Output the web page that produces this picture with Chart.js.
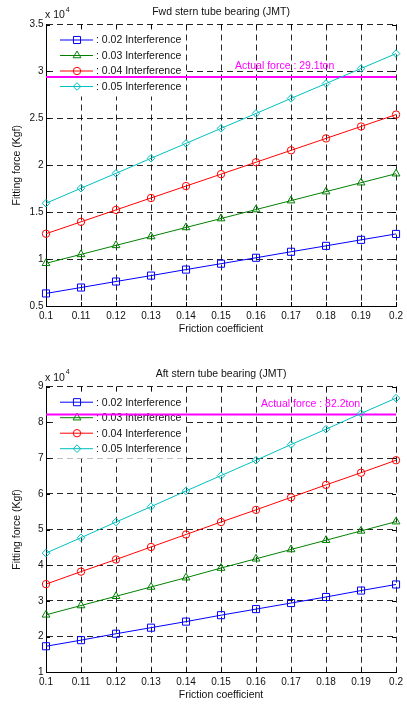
<!DOCTYPE html>
<html><head><meta charset="utf-8">
<script src="https://cdn.jsdelivr.net/npm/chart.js@4"></script>
<style>
html,body{margin:0;padding:0;background:#fff;width:407px;height:705px;overflow:hidden}
canvas{position:absolute;left:0}
</style></head>
<body>
<canvas id="c1" width="407" height="352" style="top:0px"></canvas>
<canvas id="c2" width="407" height="353" style="top:352px"></canvas>
<script>
// ---------- DATA ----------
const friction = [0.1, 0.11, 0.12, 0.13, 0.14, 0.15, 0.16, 0.17, 0.18, 0.19, 0.2];
const xTickLabels = ['0.1','0.11','0.12','0.13','0.14','0.15','0.16','0.17','0.18','0.19','0.2'];
const seriesNames = [': 0.02 Interference', ': 0.03 Interference', ': 0.04 Interference', ': 0.05 Interference'];
const xAxisTitle = 'Friction coefficient';
const yAxisTitle = 'Fitting force (Kgf)';
const exponentText = 'x 10';
const exponentPower = '4';

// Fwd stern tube bearing (values x 10^4 kgf)
const fwdTitle = 'Fwd stern tube bearing (JMT)';
const fwd002 = [0.634, 0.697, 0.761, 0.824, 0.888, 0.951, 1.014, 1.078, 1.141, 1.205, 1.268];
const fwd003 = [0.955, 1.050, 1.146, 1.241, 1.337, 1.432, 1.528, 1.623, 1.719, 1.814, 1.910];
const fwd004 = [1.270, 1.397, 1.524, 1.651, 1.778, 1.905, 2.032, 2.159, 2.286, 2.413, 2.540];
const fwd005 = [1.595, 1.755, 1.914, 2.074, 2.233, 2.393, 2.552, 2.712, 2.871, 3.031, 3.190];
const fwdActual = 2.94;
const fwdActualLabel = 'Actual force : 29.1ton';
const fwdYTicks = [0.5, 1, 1.5, 2, 2.5, 3, 3.5];
const fwdYTickLabels = ['0.5','1','1.5','2','2.5','3','3.5'];

// Aft stern tube bearing (values x 10^4 kgf)
const aftTitle = 'Aft stern tube bearing (JMT)';
const aft002 = [1.73, 1.90, 2.08, 2.25, 2.42, 2.60, 2.77, 2.94, 3.11, 3.29, 3.46];
const aft003 = [2.61, 2.87, 3.13, 3.39, 3.65, 3.92, 4.18, 4.44, 4.70, 4.96, 5.22];
const aft004 = [3.47, 3.82, 4.16, 4.51, 4.86, 5.21, 5.55, 5.90, 6.25, 6.59, 6.94];
const aft005 = [4.34, 4.77, 5.21, 5.64, 6.08, 6.51, 6.94, 7.38, 7.81, 8.25, 8.68];
const aftActual = 8.22;
const aftActualLabel = 'Actual force : 82.2ton';
const aftYTicks = [1, 2, 3, 4, 5, 6, 7, 8, 9];
const aftYTickLabels = ['1','2','3','4','5','6','7','8','9'];

// ---------- STYLE ----------
const FONT = "'Liberation Sans', Arial, sans-serif";
const TXT = '#111';
const seriesStyles = [
  {color: '#0000ff', pointStyle: 'rect', radius: 5},
  {color: '#008000', pointStyle: 'triangle', radius: 4.5},
  {color: '#ff0000', pointStyle: 'circle', radius: 3.7},
  {color: '#00bfbf', pointStyle: 'rectRot', radius: 3.8}
];
const ACTUAL_COLOR = '#ff00ff';

function makeDecor(cfg) {
  return {
    id: 'decor',
    beforeDatasetsDraw(chart) {
      const ctx = chart.ctx, a = chart.chartArea;
      const L = a.left, T = a.top;
      const xs = chart.scales.x, ys = chart.scales.y;
      ctx.save();
      // inward tick marks on all four sides
      ctx.strokeStyle = '#000';
      ctx.lineWidth = 1;
      ctx.setLineDash([]);
      ctx.beginPath();
      xs.ticks.forEach(t => {
        const px = Math.round(xs.getPixelForValue(t.value)) + 0.5;
        ctx.moveTo(px, a.bottom); ctx.lineTo(px, a.bottom - 4);
        ctx.moveTo(px, a.top); ctx.lineTo(px, a.top + 4);
      });
      ys.ticks.forEach(t => {
        const py = Math.round(ys.getPixelForValue(t.value)) + 0.5;
        ctx.moveTo(a.left, py); ctx.lineTo(a.left + 4, py);
        ctx.moveTo(a.right, py); ctx.lineTo(a.right - 4, py);
      });
      ctx.stroke();
      // legend
      ctx.fillStyle = '#fff';
      ctx.fillRect(L + 8, T + 5, 130, 67);
      const rows = [15.5, 31, 46.5, 62];
      chart.data.datasets.forEach((ds, i) => {
        if (!ds.inLegend) return;
        const y = T + rows[i];
        ctx.strokeStyle = ds.borderColor;
        ctx.lineWidth = 1;
        ctx.setLineDash([]);
        ctx.beginPath();
        ctx.moveTo(L + 14, y);
        ctx.lineTo(L + 47, y);
        ctx.stroke();
        ctx.fillStyle = 'rgba(0,0,0,0)';
        Chart.helpers.drawPoint(ctx, {pointStyle: ds.pointStyle, radius: ds.pointRadius, rotation: 0, borderWidth: 1}, L + 31, y);
        ctx.fillStyle = TXT;
        ctx.font = '10.5px ' + FONT;
        ctx.textAlign = 'left';
        ctx.textBaseline = 'middle';
        ctx.fillText(ds.label, L + 50, y + 0.5);
      });
      ctx.restore();
    },
    afterDatasetsDraw(chart) {
      const ctx = chart.ctx, a = chart.chartArea;
      const xs = chart.scales.x, ys = chart.scales.y;
      ctx.save();
      // actual force label
      ctx.fillStyle = ACTUAL_COLOR;
      ctx.font = '10.5px ' + FONT;
      ctx.textAlign = 'left';
      ctx.textBaseline = 'middle';
      ctx.fillText(cfg.actualLabel, xs.getPixelForValue(cfg.actualLabelX), ys.getPixelForValue(cfg.actualValue) - 10.5);
      // title
      ctx.fillStyle = TXT;
      ctx.textAlign = 'center';
      ctx.font = '10.5px ' + FONT;
      ctx.fillText(cfg.title, (a.left + a.right) / 2, a.top - cfg.titleOffset);
      // exponent
      ctx.textAlign = 'left';
      ctx.font = '10.5px ' + FONT;
      ctx.fillText(exponentText, a.left - 1, a.top - 9);
      const w = ctx.measureText(exponentText).width;
      ctx.font = '7px ' + FONT;
      ctx.fillText(exponentPower, a.left - 1 + w + 1, a.top - 14.5);
      ctx.restore();
    }
  };
}

function buildChart(canvasId, cfg) {
  const datasets = cfg.series.map((vals, i) => ({
    label: seriesNames[i],
    inLegend: true,
    data: friction.map((x, j) => ({x: x, y: vals[j]})),
    borderColor: seriesStyles[i].color,
    backgroundColor: 'rgba(0,0,0,0)',
    borderWidth: 1,
    pointStyle: seriesStyles[i].pointStyle,
    pointRadius: seriesStyles[i].radius,
    pointHoverRadius: seriesStyles[i].radius,
    pointBorderColor: seriesStyles[i].color,
    pointBackgroundColor: 'rgba(0,0,0,0)',
    pointBorderWidth: 1,
    tension: 0,
    clip: false
  }));
  datasets.push({
    label: cfg.actualLabel,
    inLegend: false,
    data: [{x: friction[0], y: cfg.actualValue}, {x: friction[friction.length - 1], y: cfg.actualValue}],
    borderColor: ACTUAL_COLOR,
    borderWidth: 2,
    pointRadius: 0,
    pointHoverRadius: 0,
    clip: false
  });
  const gridCommon = {
    color: 'rgba(0,0,0,0.85)',
    lineWidth: 1,
    drawTicks: false,
    borderDash: [6, 4]
  };
  return new Chart(document.getElementById(canvasId), {
    type: 'line',
    data: {datasets},
    options: {
      responsive: false,
      animation: false,
      devicePixelRatio: 1,
      events: [],
      layout: {padding: {left: 0, right: 8.3, top: cfg.padTop, bottom: 0}},
      plugins: {legend: {display: false}, tooltip: {enabled: false}, title: {display: false}},
      scales: {
        x: {
          type: 'linear',
          min: friction[0],
          max: friction[friction.length - 1],
          afterBuildTicks: s => { s.ticks = friction.map(v => ({value: v})); },
          afterFit: s => { s.height = cfg.xHeight; },
          ticks: {
            autoSkip: false, maxRotation: 0, padding: 4, color: TXT,
            font: {family: FONT, size: 10},
            callback: (v, i) => xTickLabels[i]
          },
          grid: gridCommon,
          border: {display: true, color: '#000', width: 1, dash: [6, 4]},
          title: {display: true, text: xAxisTitle, color: TXT, font: {family: FONT, size: 10.5}, padding: {top: 0, bottom: cfg.xTitlePad}}
        },
        y: {
          type: 'linear',
          min: cfg.yTicks[0],
          max: cfg.yTicks[cfg.yTicks.length - 1],
          afterBuildTicks: s => { s.ticks = cfg.yTicks.map(v => ({value: v})); },
          afterFit: s => { s.width = 46; },
          ticks: {
            autoSkip: false, padding: 2.5, color: TXT,
            font: {family: FONT, size: 10},
            callback: (v, i) => cfg.yTickLabels[i]
          },
          grid: gridCommon,
          border: {display: true, color: '#000', width: 1, dash: [6, 4]},
          title: {display: true, text: yAxisTitle, color: TXT, font: {family: FONT, size: 10.5}, padding: {top: 11, bottom: 0}}
        }
      }
    },
    plugins: [makeDecor(cfg)]
  });
}

buildChart('c1', {
  series: [fwd002, fwd003, fwd004, fwd005],
  actualValue: fwdActual, actualLabel: fwdActualLabel, actualLabelX: 0.154,
  yTicks: fwdYTicks, yTickLabels: fwdYTickLabels,
  title: fwdTitle, titleOffset: 12.5,
  padTop: 24.5, xHeight: 46, xTitlePad: 16.2
});
buildChart('c2', {
  series: [aft002, aft003, aft004, aft005],
  actualValue: aftActual, actualLabel: aftActualLabel, actualLabelX: 0.1614,
  yTicks: aftYTicks, yTickLabels: aftYTickLabels,
  title: aftTitle, titleOffset: 13,
  padTop: 34.7, xHeight: 32.7, xTitlePad: 3.2
});
</script>
</body></html>
